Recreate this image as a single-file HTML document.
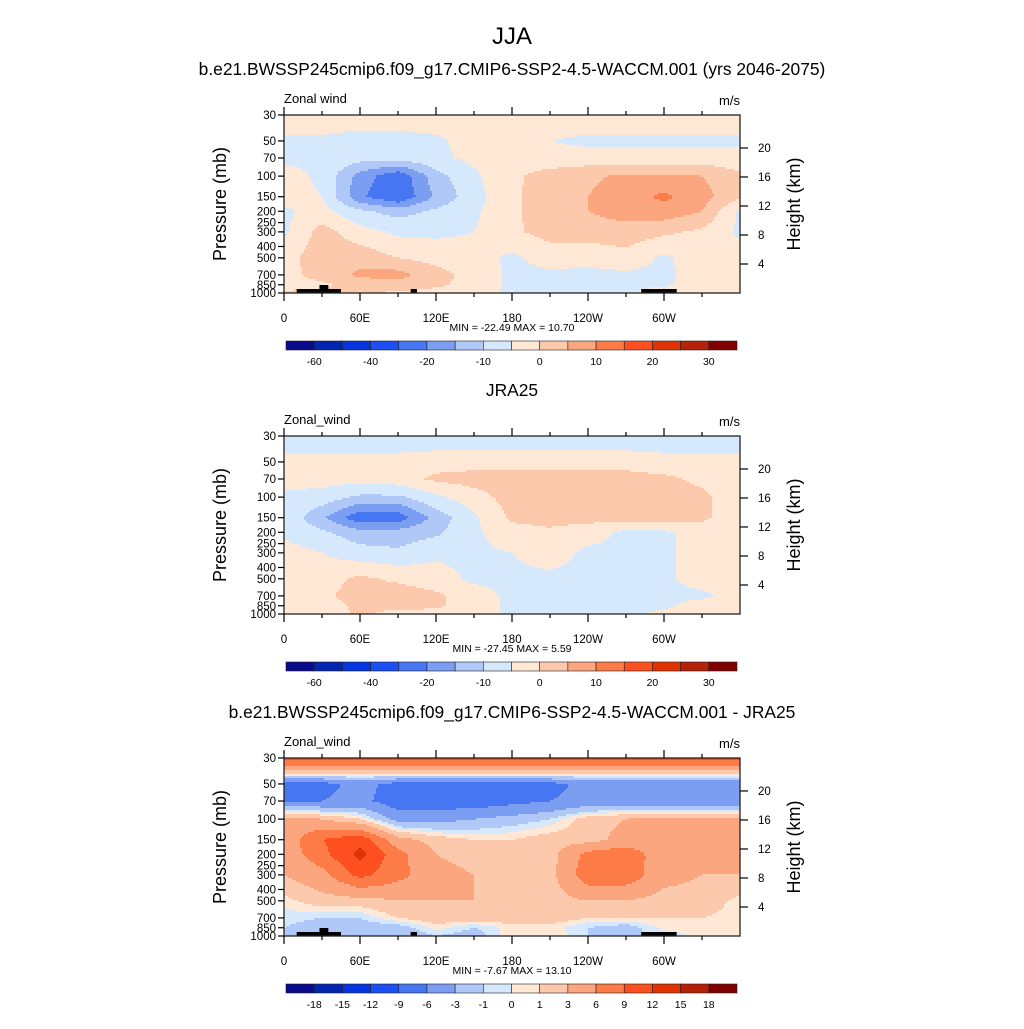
<!DOCTYPE html>
<html><head><meta charset="utf-8">
<style>
body{margin:0;background:#fff;}
svg text{font-family:"Liberation Sans",sans-serif;fill:#000;}
</style></head>
<body>
<svg id="chart" width="1024" height="1024" viewBox="0 0 1024 1024" xmlns="http://www.w3.org/2000/svg">
<rect width="1024" height="1024" fill="#fff"/>
<text x="512" y="44" font-size="24" text-anchor="middle">JJA</text>
</svg>
<script>
// ---- data ----
const lons = [0,30,60,90,120,150,180,210,240,270,300,330,360];
const pres1 = [30,50,70,100,150,200,300,500,700,850,1000];
const model = [
[-2,-2,-2,-2,-2,-2,-2,-2,-2,-2,-2,-2,-2],
[-6,-6,-7,-7,-6,-3,-3,-5,-6,-6,-6,-6,-6],
[-6,-6,-8,-8,-6,-4,-2,-3,-3,-3,-3,-3,-3],
[-3,-6,-17,-24,-12,-6,-1,2,4,6,6,5,1],
[-3,-5,-19,-25,-14,-7,-1,3,5,8,11,7,1],
[-6,-3,-9,-12,-9,-6,-1,3,5,7,8,5,-6],
[-6,2,-3,-6,-6,-5,-1,2,3,3,1,-1,-6],
[-2,3,3,0,-2,-3,-6,-3,-4,-2,-6,-2,-2],
[-2,2,6,7,2,-2,-6,-6,-6,-6,-6,-3,-2],
[-2,-1,2,3,1,-2,-6,-6,-6,-6,-6,-2,-2],
[1,1,1,-1,-2,-3,-6,-6,-6,-6,-2,-2,-2]];
const obs = [
[-9,-9,-9,-9,-9,-9,-9,-9,-9,-9,-9,-9,-9],
[-3,-3,-3,-3,-2,-2,-2,-2,-2,-2,-3,-3,-3],
[-3,-3,-3,-2,1,2,2,2,2,2,1,-1,-3],
[-6,-7,-11,-11,-6,-2,2,2,2,2,2,1,-3],
[-6,-14,-24,-23,-13,-6,1,2,2,2,3,1,-3],
[-6,-9,-13,-13,-11,-6,-2,-1,-3,-6,-6,-3,-3],
[-3,-5,-8,-9,-6,-6,-5,-3,-6,-6,-6,-3,-3],
[-3,-2,1,-1,-3,-6,-6,-6,-6,-6,-6,-3,-3],
[-3,-1,2,3,1,-3,-6,-6,-6,-6,-6,-6,-3],
[-3,-2,1,2,1,-3,-6,-6,-6,-6,-6,-3,-3],
[-2,-3,1,-2,-2,-3,-6,-6,-6,-6,-4,-4,-3]];
const pres3 = [30,40,50,70,100,150,200,300,500,700,850,1000];
const diff = [
[10,10,10,10,10,10,10,10,10,10,10,10,10],
[2,2,2,2,2,2,2,2,2,2,2,2,2],
[-7,-7,-5,-7,-7,-7,-7,-7,-5,-5,-5,-5,-5],
[-6,-6,-5,-8,-8,-8,-7,-6,-5,-5,-5,-5,-5],
[4,3,1,-4,-4,-3,-2,-1,2,3,4,4,4],
[4,9,11,4,2,1,1,2,2,4,4,4,4],
[4,8,13,7,3,2,2,2,7,8,4,3,4],
[3,5,10,7,4,3,2,2,8,8,4,3,3],
[0.5,2,2,3,3,3,2,2,3,3,2,2,0.5],
[-0.5,-1,-1,1,2,2,2,2,1,1,1,1,0.5],
[-1,-2,-2,-2,0.5,-1,0.5,0.5,-1,-2,0.5,1,0.5],
[-1,-1,-1,-3,-1,-2,1,1,-1,-1,-1,0.5,1]];
const levels1 = [-60,-50,-40,-30,-20,-15,-10,-5,0,5,10,15,20,25,30];
const labels1 = ["-60","-40","-20","-10","0","10","20","30"];
const levels3 = [-18,-15,-12,-9,-6,-3,-1,0,1,3,6,9,12,15,18];
const labels3 = ["-18","-15","-12","-9","-6","-3","-1","0","1","3","6","9","12","15","18"];
const xTickLons = [0,60,120,180,240,300];
const xTickLabels = ["0","60E","120E","180","120W","60W"];
const pTicks = [30,50,70,100,150,200,250,300,400,500,700,850,1000];
const zTicks = [4,8,12,16,20];
const colors = ["#0a0a8c","#0224b0","#0535e0","#1c4ef5","#4676f2","#7b9ef2","#b0c8f8","#d6e8fb","#ffe8d6","#fdc9ad","#fca67f","#fc7b47","#fd4f1f","#e03203","#b42008","#800000"];

const NS="http://www.w3.org/2000/svg";
const svg=document.getElementById('chart');
function mk(tag,attrs,parent){const e=document.createElementNS(NS,tag);for(const k in attrs)e.setAttribute(k,attrs[k]);(parent||svg).appendChild(e);return e;}
const X0=284,X1=740,PH=178;
function xs(lon){return X0+lon/360*(X1-X0);}
function ys(top,p){return top+PH*Math.log(p/30)/Math.log(1000/30);}
function classOf(v,lev){let c=0;for(const b of lev){if(v>b)c++;}return c;}
function sample(grid,pres,lon,p){
  let i=Math.min(11,Math.floor(lon/30));let fx=(lon-lons[i])/30;
  let j=0;while(j<pres.length-2&&p>pres[j+1])j++;
  let fy=(Math.log(p)-Math.log(pres[j]))/(Math.log(pres[j+1])-Math.log(pres[j]));
  fy=Math.max(0,Math.min(1,fy));
  const a=grid[j][i],b=grid[j][i+1],c=grid[j+1][i],d=grid[j+1][i+1];
  return a*(1-fx)*(1-fy)+b*fx*(1-fy)+c*(1-fx)*fy+d*fx*fy;
}
function text(s,x,y,size,anchor,name,extra){const t=mk('text',Object.assign({x:x,y:y,'font-size':size,'text-anchor':anchor||'start'},extra||{}));t.textContent=s;


return t;}

function panel(top,grid,pres,lev,labs,labAll,title,left,minmax,terrain,name){
  const g=mk('g',{});
  
  
  const field=mk('g',{},g);
  
  
  const step=2;
  for(let y=top;y<top+PH;y+=step){
    const yc=y+step/2;const p=30*Math.exp((yc-top)/PH*Math.log(1000/30));
    let runStart=X0,runC=-1;
    for(let x=X0;x<=X1;x+=step){
      let c=-1;
      if(x<X1){const lon=(x+step/2-X0)/(X1-X0)*360;c=classOf(sample(grid,pres,lon,p),lev);}
      if(c!==runC){
        if(runC>=0)mk('rect',{x:runStart,y:y,width:x-runStart+0.5,height:step+0.5,fill:colors[runC]},field);
        runStart=x;runC=c;
      }
    }
  }
  if(terrain){
    const ter=[[10,45,4],[28,35,8],[100,105,4],[282,310,4]];
    for(const t of ter){const r=mk('rect',{x:xs(t[0]),y:top+PH-t[2],width:xs(t[1])-xs(t[0]),height:t[2],fill:'#000'},g);
      
      }
  }
  const fr=mk('rect',{x:X0,y:top,width:X1-X0,height:PH,fill:'none',stroke:'#222','stroke-width':1.3},g);
  
  
  for(let lon=0;lon<360;lon+=30){
    const major=lon%60===0;const L=major?8:4;const x=xs(lon);
    mk('line',{x1:x,x2:x,y1:top,y2:top-L,stroke:'#000','stroke-width':1.2},g);
    mk('line',{x1:x,x2:x,y1:top+PH,y2:top+PH+L,stroke:'#000','stroke-width':1.2},g);
  }
  xTickLons.forEach((l,i)=>text(xTickLabels[i],xs(l),top+PH+29,11.5,'middle','x-tick-label'));
  pTicks.forEach(p=>{const y=ys(top,p);mk('line',{x1:X0,x2:X0-6,y1:y,y2:y,stroke:'#000','stroke-width':1.2},g);
    text(String(p),X0-8,y+4,11.5,'end','pressure-tick-label');});
  zTicks.forEach(z=>{const p=1000*Math.exp(-z/7);const y=ys(top,p);mk('line',{x1:X1,x2:X1+8,y1:y,y2:y,stroke:'#000','stroke-width':1.2},g);
    text(String(z),X1+18,y+4,11.5,'start','height-tick-label');});
  text('Pressure (mb)',226,top+PH/2,18,'middle','y-axis-title',{transform:`rotate(-90 226 ${top+PH/2})`});
  text('Height (km)',800,top+PH/2,18,'middle','right-axis-title',{transform:`rotate(-90 800 ${top+PH/2})`});
  text(title,512,top-40,17.4,'middle','panel-title');
  text(left,X0,top-12,13,'start','variable-label');
  text('m/s',X1,top-10,13,'end','units-label');
  text(minmax,512,top+PH+38,10.5,'middle','min-max-label');
  const cy=top+PH+48,cx0=286,cx1=737,w=(cx1-cx0)/16;
  const cb=mk('g',{},g);
  
  
  colors.forEach((c,i)=>mk('rect',{x:cx0+i*w,y:cy,width:w,height:9,fill:c,stroke:'#222','stroke-width':0.6},cb));
  if(labAll){lev.forEach((v,i)=>text(labs[i],cx0+(i+1)*w,cy+24,10.5,'middle','colorbar-label'));}
  else{labs.forEach((s,i)=>text(s,cx0+(2*i+1)*w,cy+24,10.5,'middle','colorbar-label'));}
}
panel(115,model,pres1,levels1,labels1,false,'b.e21.BWSSP245cmip6.f09_g17.CMIP6-SSP2-4.5-WACCM.001 (yrs 2046-2075)','Zonal wind','MIN = -22.49  MAX =  10.70',true,'model-panel');
panel(436,obs,pres1,levels1,labels1,false,'JRA25','Zonal_wind','MIN = -27.45  MAX =   5.59',false,'obs-panel');
panel(758,diff,pres3,levels3,labels3,true,'b.e21.BWSSP245cmip6.f09_g17.CMIP6-SSP2-4.5-WACCM.001 - JRA25','Zonal_wind','MIN =  -7.67  MAX =  13.10',true,'difference-panel');
</script>
</body></html>
